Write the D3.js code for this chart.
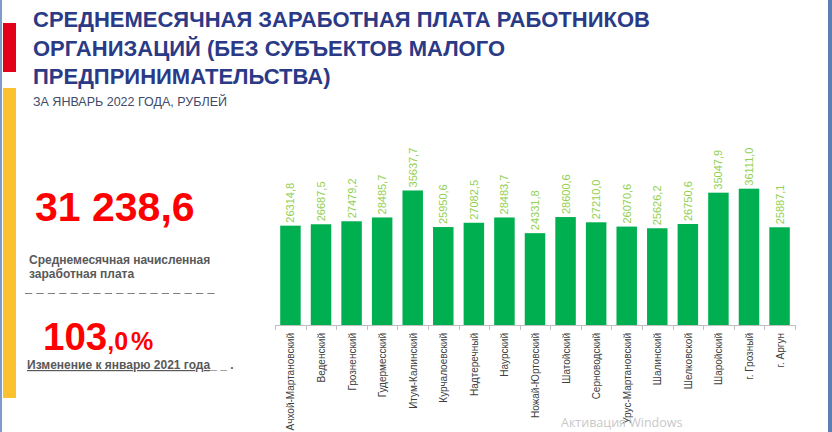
<!DOCTYPE html>
<html><head><meta charset="utf-8">
<script src="https://cdn.jsdelivr.net/npm/d3@7"></script>
<style>body{margin:0;background:#fff;} svg{display:block;}</style>
</head><body>
<svg id="c" width="832" height="432"></svg>
<script>
const categories = ["Ачхой-Мартановский","Веденский","Грозненский","Гудермесский","Итум-Калинский","Курчалоевский","Надтеречный","Наурский","Ножай-Юртовский","Шатойский","Серноводский","Урус-Мартановский","Шалинский","Шелковской","Шаройский","г. Грозный","г. Аргун"];
const values = [26314.8,26687.5,27479.2,28485.7,35637.7,25950.6,27082.5,28483.7,24331.8,28600.6,27210.0,26070.6,25626.2,26750.6,35047.9,36111.0,25887.1];
const valueLabels = ["26314,8","26687,5","27479,2","28485,7","35637,7","25950,6","27082,5","28483,7","24331,8","28600,6","27210,0","26070,6","25626,2","26750,6","35047,9","36111,0","25887,1"];
const titleLines = ["СРЕДНЕМЕСЯЧНАЯ ЗАРАБОТНАЯ ПЛАТА РАБОТНИКОВ","ОРГАНИЗАЦИЙ (БЕЗ СУБЪЕКТОВ МАЛОГО","ПРЕДПРИНИМАТЕЛЬСТВА)"];
const subtitle = "ЗА ЯНВАРЬ 2022 ГОДА, РУБЛЕЙ";
const avgValue = "31 238,6";
const avgLabel = ["Среднемесячная начисленная","заработная плата"];
const changeMain = "103";
const changeDec = ",0";
const changeLabel = "Изменение к январю 2021 года";

const svg = d3.select("#c");
const F = "'Liberation Sans', Arial, sans-serif";

// decorations
svg.append("rect").attr("x",0).attr("y",0).attr("width",2).attr("height",432).attr("fill","#7f9cc9");
svg.append("rect").attr("x",828).attr("y",0).attr("width",4).attr("height",432).attr("fill","#5b7fb5");
svg.append("rect").attr("x",3).attr("y",23).attr("width",13).attr("height",49).attr("fill","#e2001a");
svg.append("rect").attr("x",3).attr("y",88).attr("width",13).attr("height",310).attr("fill","#fcc12e");

// title
svg.append("g").selectAll("text").data(titleLines).join("text")
  .attr("x",33).attr("y",(d,i)=>27+i*28.5)
  .attr("font-family",F).attr("font-weight","bold").attr("font-size",22)
  .attr("fill","#2b3a86").text(d=>d);
svg.append("text").attr("x",33).attr("y",106).attr("font-family",F).attr("font-size",12.5)
  .attr("fill","#404a6a").text(subtitle);

// left block
svg.append("text").attr("x",35).attr("y",221).attr("font-family",F).attr("font-weight","bold")
  .attr("font-size",41).attr("fill","#ff0000").text(avgValue);
svg.append("g").selectAll("text").data(avgLabel).join("text")
  .attr("x",29).attr("y",(d,i)=>264+i*14).attr("font-family",F).attr("font-weight","bold")
  .attr("font-size",12).attr("fill","#595959").text(d=>d);
svg.append("line").attr("x1",25).attr("x2",218).attr("y1",293.5).attr("y2",293.5)
  .attr("stroke","#7f7f7f").attr("stroke-width",1.2).attr("stroke-dasharray","7.2,4.2");
const ch = svg.append("text").attr("x",43).attr("y",350).attr("font-family",F).attr("font-weight","bold").attr("fill","#ff0000");
ch.append("tspan").attr("font-size",38.5).text(changeMain);
ch.append("tspan").attr("font-size",25).text(changeDec);
ch.append("tspan").attr("font-size",25).attr("dx",3).text("%");
const cl = svg.append("text").attr("x",27).attr("y",369).attr("font-family",F).attr("font-weight","bold")
  .attr("font-size",12).attr("fill","#595959");
cl.append("tspan").attr("text-decoration","underline").text(changeLabel);
cl.append("tspan").text("_ _ .");

// chart
const x = d3.scaleBand().domain(categories).range([275,795]).paddingInner(0.33).paddingOuter(0.17);
const y = d3.scaleLinear().domain([0,40000]).range([325,174]);

svg.append("g").selectAll("rect").data(values).join("rect")
  .attr("x",(d,i)=>x(categories[i])).attr("width",x.bandwidth())
  .attr("y",d=>y(d)).attr("height",d=>y(0)-y(d)).attr("fill","#00b050");

svg.append("g").selectAll("text").data(values).join("text")
  .attr("transform",(d,i)=>`translate(${x(categories[i])+x.bandwidth()/2+4},${y(d)-3}) rotate(-90)`)
  .attr("font-family",F).attr("font-size",11).attr("fill","#92d050")
  .text((d,i)=>valueLabels[i]);

// axis
const ax = svg.append("g");
ax.append("line").attr("x1",275).attr("x2",795).attr("y1",325.5).attr("y2",325.5).attr("stroke","#bfbfbf");
const step = x.step();
const edges = d3.range(categories.length+1).map(i=> i===0 ? 275 : (i===categories.length ? 795 : x(categories[i]) - (step-x.bandwidth())/2));
ax.selectAll("line.t").data(edges).join("line").attr("class","t")
  .attr("x1",d=>Math.round(d)+0.5).attr("x2",d=>Math.round(d)+0.5).attr("y1",325).attr("y2",330).attr("stroke","#bfbfbf");
ax.selectAll("text").data(categories).join("text")
  .attr("transform",d=>`translate(${x(d)+x.bandwidth()/2+4},333) rotate(-90)`)
  .attr("text-anchor","end").attr("font-family",F).attr("font-size",10).attr("fill","#404040")
  .text(d=>d);

svg.append("text").attr("x",561).attr("y",427).attr("font-family","'Open Sans', sans-serif").attr("font-size",12.5)
  .attr("fill","#c8c8c8").text("Активация Windows");
</script>
</body></html>
